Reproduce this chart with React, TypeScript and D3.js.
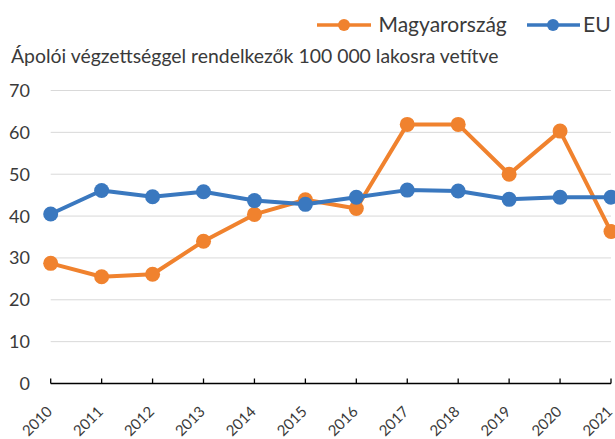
import React from "react";
import * as d3 from "d3";

const years = ["2010", "2011", "2012", "2013", "2014", "2015", "2016", "2017", "2018", "2019", "2020", "2021"];
const huValues = [28.7, 25.5, 26.1, 34.0, 40.4, 43.9, 41.8, 61.9, 61.9, 50.0, 60.3, 36.3];
const euValues = [40.5, 46.1, 44.6, 45.8, 43.7, 42.8, 44.5, 46.2, 46.0, 44.0, 44.5, 44.5];
const yTicks = [0, 10, 20, 30, 40, 50, 60, 70];
const seriesNames = ["Magyarország", "EU"];

const W = 615;
const H = 439;
const ORANGE = "#F0822E";
const BLUE = "#3A78BF";
const FONT = "Lato, 'Open Sans', sans-serif";
const TEXT = "#3a3a3a";

// plot area
const x0 = 50.7;
const x1 = 611;
const yTop = 90.5;
const yBottom = 383.5;

const App = () => {
  const x = d3.scalePoint<string>().domain(years).range([x0, x1]);
  const y = d3.scaleLinear().domain([0, 70]).range([yBottom, yTop]);

  const line = d3
    .line<number>()
    .x((_, i) => x(years[i]) as number)
    .y((d) => y(d));

  const series = [
    { name: seriesNames[0], values: huValues, color: ORANGE },
    { name: seriesNames[1], values: euValues, color: BLUE },
  ];

  return (
    <svg width={W} height={H} style={{ position: "absolute", left: 0, top: 0 }} fontFamily={FONT}>
      <rect width={W} height={H} fill="#fff" />

      {/* gridlines */}
      {yTicks.slice(1).map((t) => (
        <line key={t} x1={x0} x2={x1} y1={y(t)} y2={y(t)} stroke="#d9d9d9" strokeWidth={1} />
      ))}

      {/* y labels */}
      {yTicks.map((t) => (
        <text key={t} x={30} y={y(t) + 6.5} textAnchor="end" fontSize={18} fill={TEXT}>
          {t}
        </text>
      ))}

      {/* x axis */}
      <line x1={x0} x2={x1} y1={yBottom} y2={yBottom} stroke="#000" strokeWidth={1.3} />
      {years.map((yr) => (
        <line key={yr} x1={x(yr)} x2={x(yr)} y1={yBottom} y2={yBottom - 5} stroke="#000" strokeWidth={1.3} />
      ))}
      {years.map((yr) => (
        <text
          key={yr}
          transform={`translate(${(x(yr) as number) + 2.5},${412.5}) rotate(-45)`}
          textAnchor="end"
          fontSize={15}
          fill={TEXT}
        >
          {yr}
        </text>
      ))}

      {/* series */}
      {series.map((s) => (
        <g key={s.name}>
          <path d={line(s.values) || ""} fill="none" stroke={s.color} strokeWidth={4} strokeLinejoin="round" />
          {s.values.map((v, i) => (
            <circle key={i} cx={x(years[i])} cy={y(v)} r={7.5} fill={s.color} />
          ))}
        </g>
      ))}

      {/* title */}
      <text x={11} y={63} fontSize={19.4} fill={TEXT}>
        Ápolói végzettséggel rendelkezők 100 000 lakosra vetítve
      </text>

      {/* legend */}
      <g>
        <line x1={317} x2={371} y1={25} y2={25} stroke={ORANGE} strokeWidth={3.5} />
        <circle cx={344} cy={25} r={6} fill={ORANGE} />
        <text x={378.5} y={31.7} fontSize={21} fill={TEXT}>
          {seriesNames[0]}
        </text>
        <line x1={527} x2={580} y1={25} y2={25} stroke={BLUE} strokeWidth={3.5} />
        <circle cx={553} cy={25} r={6} fill={BLUE} />
        <text x={583} y={31.7} fontSize={21} fill={TEXT}>
          {seriesNames[1]}
        </text>
      </g>
    </svg>
  );
};

export default App;
